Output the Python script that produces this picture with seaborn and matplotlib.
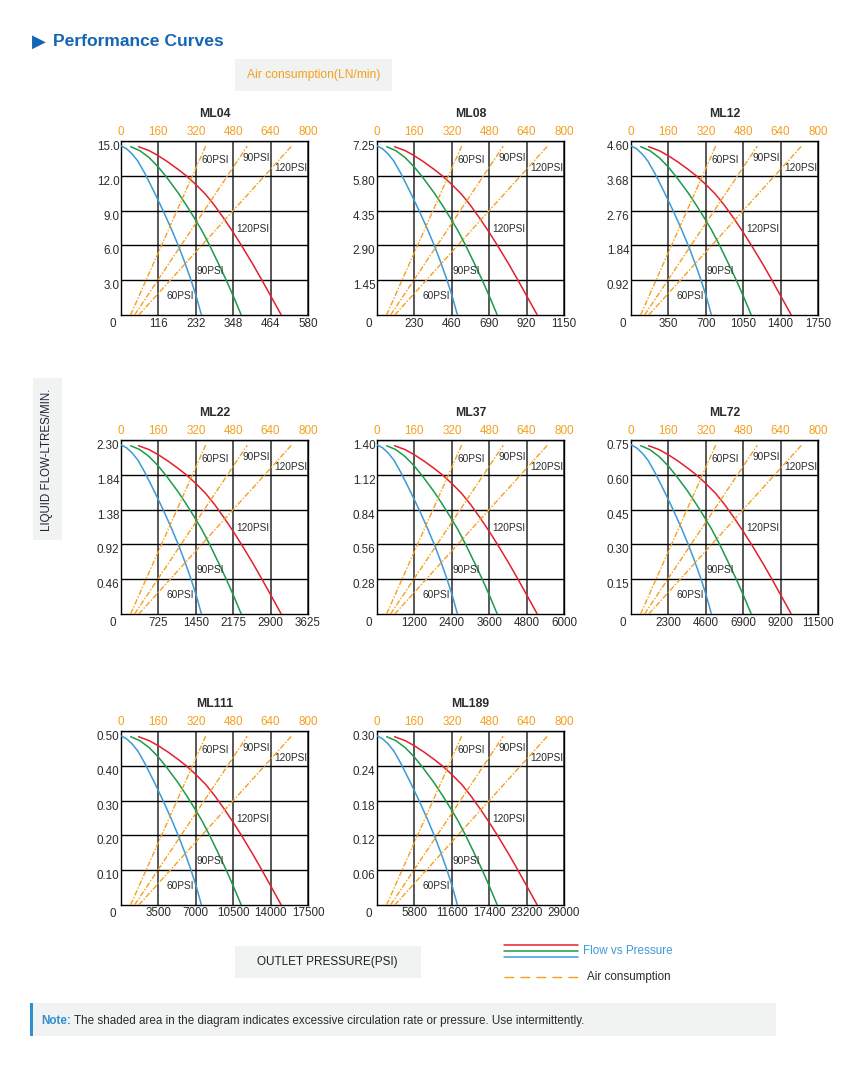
import numpy as np
import pandas as pd
import seaborn as sns
import matplotlib.pyplot as plt
import matplotlib.transforms as mtransforms
from matplotlib.patches import Rectangle
from matplotlib.lines import Line2D

# ---- data ----
models = ["ML04", "ML08", "ML12", "ML22", "ML37", "ML72", "ML111", "ML189"]
pressure_max = [580, 1150, 1750, 3625, 6000, 11500, 17500, 29000]
flow_max = [15.0, 7.25, 4.60, 2.30, 1.40, 0.75, 0.50, 0.30]
flow_decimals = [1, 2, 2, 2, 2, 2, 2, 2]
air_ticks = [0, 160, 320, 480, 640, 800]

# flow curves, as a fraction of each chart's full scale (the shape repeats on every chart)
p60 = [0.002, 0.03, 0.06, 0.09, 0.127, 0.176, 0.225, 0.269, 0.308, 0.34, 0.373, 0.403, 0.43]
q60 = [0.971, 0.955, 0.925, 0.885, 0.815, 0.71, 0.60, 0.495, 0.395, 0.305, 0.205, 0.105, 0.0]
p90 = [0.052, 0.10, 0.15, 0.20, 0.245, 0.305, 0.35, 0.385, 0.43, 0.474, 0.519, 0.563, 0.604, 0.643]
q90 = [0.967, 0.945, 0.905, 0.85, 0.79, 0.703, 0.63, 0.57, 0.49, 0.40, 0.30, 0.20, 0.10, 0.0]
p120 = [0.094, 0.15, 0.20, 0.25, 0.305, 0.349, 0.40, 0.451, 0.50, 0.55, 0.60, 0.647, 0.706,
        0.759, 0.808, 0.857]
q120 = [0.967, 0.945, 0.915, 0.88, 0.837, 0.80, 0.75, 0.695, 0.63, 0.555, 0.475, 0.395, 0.29,
        0.19, 0.095, 0.0]

# air consumption lines (LN/min), from zero flow to the top of the chart
air60 = [41, 362]
air90 = [58, 540]
air120 = [76, 729]
air_q = [0.0, 0.97]

BLUE = "#3c9ad6"
GREEN = "#1b9a4b"
RED = "#e3202c"
ORANGE = "#f5a01e"
TXT = "#2b2b2b"
BOXGREY = "#f1f2f2"

sns.set_style("white")
plt.rcParams["font.family"] = ["Liberation Sans", "DejaVu Sans"]

W, H = 847, 1080
fig = plt.figure(figsize=(W / 100, H / 100), dpi=100)


def fx(x):
    return x / W


def fy(y):
    return 1 - y / H


lefts = [121, 377, 631]
tops = [141, 440, 731]
aw, ah = 187, 174
TICK = 8.4

curves = [(p60, q60, BLUE), (p90, q90, GREEN), (p120, q120, RED)]
airs = [air60, air90, air120]
psi_labels = [("60PSI", 0.432, 0.889), ("90PSI", 0.649, 0.900), ("120PSI", 0.822, 0.847),
              ("120PSI", 0.617, 0.494), ("90PSI", 0.404, 0.255), ("60PSI", 0.244, 0.109)]

for i, name in enumerate(models):
    r, c = divmod(i, 3)
    ax = fig.add_axes([fx(lefts[c]), fy(tops[r] + ah), aw / W, ah / H])
    xm, ym = pressure_max[i], flow_max[i]

    for p, q, col in curves:
        d = pd.DataFrame({"p": np.array(p) * xm, "q": np.array(q) * ym})
        sns.lineplot(data=d, x="p", y="q", ax=ax, color=col, linewidth=1.1,
                     sort=False, estimator=None, zorder=3)

    ax.set_xlim(0, xm)
    ax.set_ylim(0, ym)
    xt = [xm * k / 5 for k in range(1, 6)]
    yt = [ym * k / 5 for k in range(1, 6)]
    ax.set_xticks(xt)
    ax.set_xticklabels([f"{v:g}" for v in xt])
    ax.set_yticks(yt)
    ax.set_yticklabels([f"{v:.{flow_decimals[i]}f}" for v in yt])
    ax.set_xlabel("")
    ax.set_ylabel("")
    ax.tick_params(axis="x", length=0, pad=1.8, labelsize=TICK, labelcolor=TXT)
    ax.tick_params(axis="y", length=0, pad=1.2, labelsize=TICK, labelcolor=TXT)
    for lab in ax.get_yticklabels():
        lab.set_transform(lab.get_transform() +
                          mtransforms.ScaledTranslation(0, -0.045, fig.dpi_scale_trans))
    ax.xaxis.grid(True, color="#4a4a4a", linewidth=1.3)
    ax.yaxis.grid(True, color="black", linewidth=1.0)
    ax.set_axisbelow(True)
    for s in ax.spines.values():
        s.set_color("black")
        s.set_linewidth(1.0)
    ax.annotate("0", xy=(0, 0), xycoords="axes fraction", xytext=(-8, -9),
                textcoords="offset pixels", ha="center", va="center",
                fontsize=TICK, color=TXT)

    ax2 = ax.twiny()
    for a in airs:
        d = pd.DataFrame({"air": a, "q": np.array(air_q) * ym})
        sns.lineplot(data=d, x="air", y="q", ax=ax2, color=ORANGE, linewidth=1.0,
                     linestyle=(0, (4, 1.3, 1.0, 1.3)), sort=False,
                     estimator=None, zorder=2)
    ax2.set_xlim(0, 800)
    ax2.set_ylim(0, ym)
    ax2.set_xticks(air_ticks)
    ax2.set_xlabel("")
    ax2.set_ylabel("")
    ax2.tick_params(axis="x", length=0, pad=2.2, labelsize=TICK, labelcolor=ORANGE)
    ax2.grid(False)
    for s in ax2.spines.values():
        s.set_visible(False)

    for txt, lx, ly in psi_labels:
        ax.text(lx, ly, txt, transform=ax.transAxes, ha="left", va="center",
                fontsize=7.3, color=TXT, zorder=5)

    ax.text(0.5, 1 + 27 / ah, name, transform=ax.transAxes, ha="center",
            va="center", fontsize=8.8, fontweight="bold", color=TXT)

# ---- page decorations ----
fig.text(fx(38.5), fy(42), "\u25B6", ha="center", va="center", fontsize=13,
         color="#1565b5", family=["DejaVu Sans"])
fig.text(fx(53), fy(42), "Performance Curves", ha="left", va="center",
         fontsize=12.6, fontweight="bold", color="#1565b5")

fig.add_artist(Rectangle((fx(235), fy(91)), 157 / W, 32 / H, transform=fig.transFigure,
                         facecolor=BOXGREY, edgecolor="none", zorder=0))
fig.text(fx(313.5), fy(75), "Air consumption(LN/min)", ha="center", va="center",
         fontsize=8.7, color=ORANGE)

fig.add_artist(Rectangle((fx(33), fy(540)), 29 / W, 162 / H, transform=fig.transFigure,
                         facecolor=BOXGREY, edgecolor="none", zorder=0))
fig.text(fx(47), fy(460), "LIQUID FLOW-LTRES/MIN.", ha="center", va="center",
         rotation=90, fontsize=8.3, color="#1d2436")

fig.add_artist(Rectangle((fx(235), fy(978)), 186 / W, 32 / H, transform=fig.transFigure,
                         facecolor=BOXGREY, edgecolor="none", zorder=0))
fig.text(fx(327.5), fy(962), "OUTLET PRESSURE(PSI)", ha="center", va="center",
         fontsize=8.5, color="#1f1f1f")

for yy, col in [(945, RED), (951, GREEN), (957, BLUE)]:
    fig.add_artist(Line2D([fx(504), fx(578)], [fy(yy), fy(yy)], color=col,
                          linewidth=1.1, transform=fig.transFigure))
fig.text(fx(583), fy(951), "Flow vs Pressure", ha="left", va="center",
         fontsize=8.4, color=BLUE)
fig.add_artist(Line2D([fx(504), fx(578)], [fy(977), fy(977)], color=ORANGE,
                      linewidth=1.0, linestyle=(0, (7, 4.5)), transform=fig.transFigure))
fig.text(fx(587), fy(977), "Air consumption", ha="left", va="center",
         fontsize=8.4, color=TXT)

fig.add_artist(Rectangle((fx(30), fy(1036)), 746 / W, 33 / H, transform=fig.transFigure,
                         facecolor=BOXGREY, edgecolor="none", zorder=0))
fig.add_artist(Rectangle((fx(30), fy(1036)), 3 / W, 33 / H, transform=fig.transFigure,
                         facecolor="#2f8fd0", edgecolor="none", zorder=1))
note = fig.text(fx(41), fy(1021), "Note:", ha="left", va="center", fontsize=8.4,
                fontweight="bold", color="#2f8fd0")
plt.annotate("The shaded area in the diagram indicates excessive circulation rate or pressure. Use intermittently.",
             xy=(1, 0.5), xycoords=note, xytext=(2.5, 0), textcoords="offset points",
             ha="left", va="center", fontsize=8.4, color=TXT, annotation_clip=False)

fig.savefig("out.png", dpi=100, facecolor="white")
